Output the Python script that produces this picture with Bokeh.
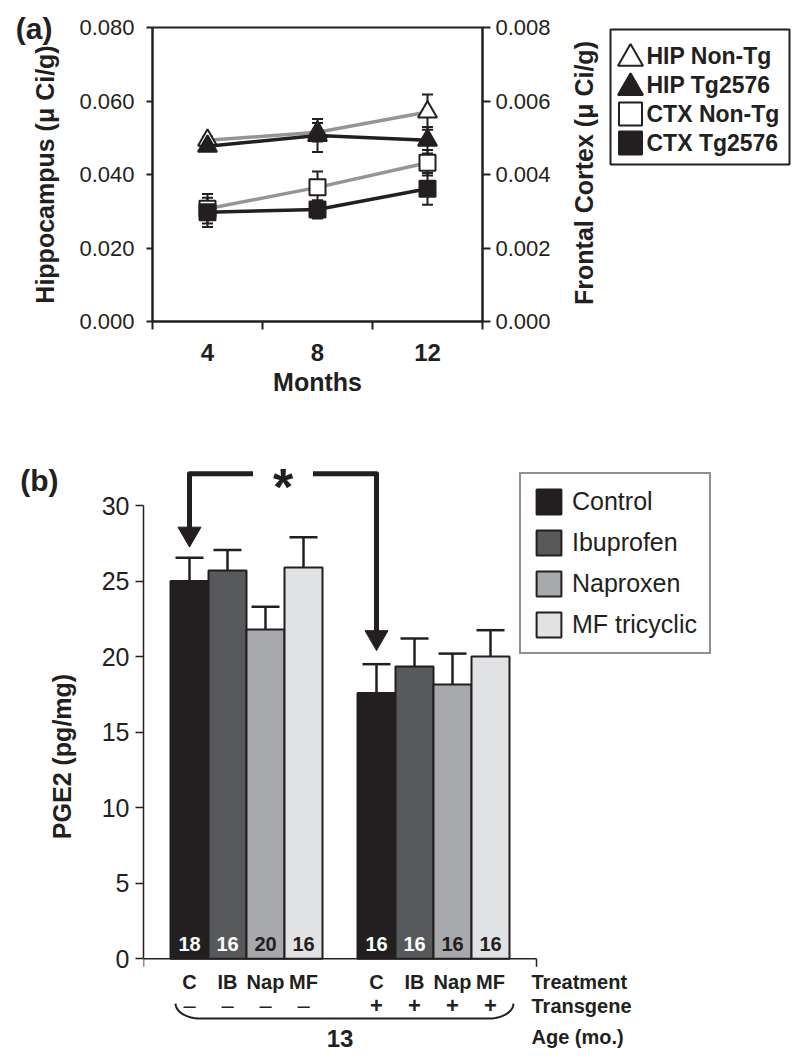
import numpy as np
from bokeh.plotting import figure
from bokeh.models import Range1d, LinearAxis, FixedTicker, Legend, LegendItem
from bokeh.layouts import column, row
from bokeh.embed import file_html
from bokeh.resources import INLINE
from bokeh.core.properties import value

FONT = "Liberation Sans"
INK = "#231f20"
GREY = "#939598"

# ---------------- Panel (a) data ----------------
months = [4, 8, 12]
hip_nontg = [0.0493, 0.0515, 0.0570]
hip_nontg_err = [0.0010, 0.0025, 0.0048]
hip_tg = [0.0477, 0.0506, 0.0493]
hip_tg_err = [0.0010, 0.0045, 0.0036]
ctx_nontg = [0.00307, 0.00365, 0.00432]
ctx_nontg_err = [0.00040, 0.00043, 0.00035]
ctx_tg = [0.00297, 0.00305, 0.00361]
ctx_tg_err = [0.00040, 0.00025, 0.00043]
hip_ticks = [0.0, 0.02, 0.04, 0.06, 0.08]
hip_tick_labels = ["0.000", "0.020", "0.040", "0.060", "0.080"]
ctx_ticks = [0.0, 0.002, 0.004, 0.006, 0.008]
ctx_tick_labels = ["0.000", "0.002", "0.004", "0.006", "0.008"]
legend_a_labels = ["HIP Non-Tg", "HIP Tg2576", "CTX Non-Tg", "CTX Tg2576"]
ctx_axis_title = "Frontal Cortex (\u03bc Ci/g)"

# ---------------- Panel (b) data ----------------
treatments = ["Control", "Ibuprofen", "Naproxen", "MF tricyclic"]
treat_short = ["C", "IB", "Nap", "MF"]
pge2_nontg = [25.0, 25.7, 21.8, 25.9]
pge2_nontg_err = [1.55, 1.35, 1.5, 2.0]
pge2_tg = [17.6, 19.35, 18.15, 20.0]
pge2_tg_err = [1.9, 1.85, 2.05, 1.75]
n_nontg = ["18", "16", "20", "16"]
n_tg = ["16", "16", "16", "16"]
transgene_signs = ["\u2013", "+"]
age_label = "13"
row_titles = ["Treatment", "Transgene", "Age (mo.)"]
pge2_ticks = [0, 5, 10, 15, 20, 25, 30]


def txt(p, x, y, s, size, bold=False, color=INK, align="center", baseline="middle", **kw):
    p.text(x=x, y=y, text=s, text_font=value(FONT), text_font_size=size,
           text_font_style="bold" if bold else "normal", text_color=color,
           text_align=align, text_baseline=baseline, **kw)


def style_axis(ax, label_size, bold_labels=False, tick_out=6, line_w=2, standoff=8):
    ax.major_tick_in = 0
    ax.major_tick_out = tick_out
    ax.major_tick_line_color = INK
    ax.major_tick_line_width = line_w
    ax.minor_tick_line_color = None
    ax.axis_line_color = INK
    ax.axis_line_width = line_w
    ax.major_label_text_font = FONT
    ax.major_label_text_font_size = label_size
    ax.major_label_text_font_style = "bold" if bold_labels else "normal"
    ax.major_label_text_color = INK
    ax.major_label_standoff = standoff
    ax.axis_label_text_font = FONT
    ax.axis_label_text_font_size = "25px"
    ax.axis_label_text_font_style = "bold"
    ax.axis_label_text_color = INK


def panel_tag(p, yval, text, size, shift):
    """Panel letter drawn as the lone tick label of an invisible outer axis."""
    ax = LinearAxis(ticker=FixedTicker(ticks=[yval]))
    ax.major_label_overrides = {yval: text}
    ax.axis_line_color = None
    ax.major_tick_line_color = None
    ax.minor_tick_line_color = None
    ax.major_tick_in = 0
    ax.major_tick_out = 0
    ax.major_label_standoff = 0
    try:
        ax.major_label_standoff = -shift
    except Exception:
        pass
    ax.major_label_text_font = FONT
    ax.major_label_text_font_size = size
    ax.major_label_text_font_style = "bold"
    ax.major_label_text_color = INK
    p.add_layout(ax, "left")


# ======================= Panel (a) =======================
WA, HA = 570, 428
TOP_A, BOT_A = 27, 107
pa = figure(width=WA, height=HA, x_range=Range1d(2, 14), y_range=Range1d(0, 0.08),
            output_backend="svg", toolbar_location=None,
            min_border_left=152, min_border_right=WA - 482, min_border_top=TOP_A, min_border_bottom=BOT_A)
pa.extra_y_ranges = {"ctx": Range1d(0, 0.008)}
pa.grid.visible = False
pa.outline_line_color = INK
pa.outline_line_width = 2

xa = pa.xaxis[0]
style_axis(xa, "24px", bold_labels=True, tick_out=0, standoff=14)
xa.ticker = FixedTicker(ticks=months, minor_ticks=[2, 6, 10, 14])
xa.minor_tick_in = 0
xa.minor_tick_out = 8
xa.minor_tick_line_color = INK
xa.minor_tick_line_width = 2
xa.axis_label = "Months"
xa.axis_label_standoff = 4

ya = pa.yaxis[0]
style_axis(ya, "22px", tick_out=6, standoff=12)
ya.ticker = FixedTicker(ticks=hip_ticks)
ya.major_label_overrides = dict(zip(hip_ticks, hip_tick_labels))
ya.axis_label = "Hippocampus (\u03bc Ci/g)"
ya.axis_label_standoff = 17

ra = LinearAxis(y_range_name="ctx", ticker=FixedTicker(ticks=ctx_ticks))
style_axis(ra, "22px", tick_out=8, standoff=5)
ra.major_label_overrides = dict(zip(ctx_ticks, ctx_tick_labels))
pa.add_layout(ra, "right")

panel_tag(pa, 0.0797, "(a)", "30px", 24)

CAP_A = 0.2  # half cap width in x units


def err_bars(p, vals, errs, rng=None):
    kw = {} if rng is None else {"y_range_name": rng}
    lo = [v - e for v, e in zip(vals, errs)]
    hi = [v + e for v, e in zip(vals, errs)]
    p.segment(x0=months, y0=lo, x1=months, y1=hi, line_color=INK, line_width=2, **kw)
    xl = [m - CAP_A for m in months]
    xr = [m + CAP_A for m in months]
    p.segment(x0=xl, y0=hi, x1=xr, y1=hi, line_color=INK, line_width=2, **kw)
    p.segment(x0=xl, y0=lo, x1=xr, y1=lo, line_color=INK, line_width=2, **kw)


err_bars(pa, hip_nontg, hip_nontg_err)
err_bars(pa, ctx_nontg, ctx_nontg_err, "ctx")
err_bars(pa, hip_tg, hip_tg_err)
err_bars(pa, ctx_tg, ctx_tg_err, "ctx")

pa.line(months, hip_nontg, line_color=GREY, line_width=3.5)
pa.line(months, ctx_nontg, line_color=GREY, line_width=3.5, y_range_name="ctx")
pa.scatter(months, hip_nontg, marker="triangle", size=19, fill_color="white", line_color=INK, line_width=2)
pa.scatter(months, ctx_nontg, marker="square", size=16, fill_color="white", line_color=INK, line_width=2,
           y_range_name="ctx")
pa.line(months, hip_tg, line_color=INK, line_width=3.5)
pa.line(months, ctx_tg, line_color=INK, line_width=3.5, y_range_name="ctx")
pa.scatter(months, hip_tg, marker="triangle", size=19, fill_color=INK, line_color=INK, line_width=2)
pa.scatter(months, ctx_tg, marker="square", size=16, fill_color=INK, line_color=INK, line_width=2,
           y_range_name="ctx")

# ----- right-axis title + legend (a), drawn in a side figure sharing the frame rows -----
WL = 800 - WA
FH_A = HA - TOP_A - BOT_A
pl = figure(width=WL, height=HA, x_range=Range1d(0, WL), y_range=Range1d(FH_A, 0),
            output_backend="svg", toolbar_location=None,
            x_axis_location=None, y_axis_location=None,
            min_border_left=0, min_border_right=0, min_border_top=TOP_A, min_border_bottom=BOT_A)
pl.grid.visible = False
pl.outline_line_color = None
txt(pl, [583 - WA], [172.5 - TOP_A], [ctx_axis_title], "25px", bold=True, angle=np.pi / 2)
LX = 610 - WA
pl.quad(left=[LX], right=[LX + 179], top=[2], bottom=[137], fill_color=None, line_color=INK, line_width=2)
rows_y = [28 + 29.2 * i for i in range(4)]
markers = ["triangle", "triangle", "square", "square"]
fills = ["white", INK, "white", INK]
msize = [25, 25, 23, 23]
moff = [3, 3, 0, 0]
pl.scatter(x=[LX + 20] * 4, y=[r + o for r, o in zip(rows_y, moff)], marker=markers, size=msize,
           fill_color=fills, line_color=INK, line_width=2)
txt(pl, [LX + 36] * 4, rows_y, legend_a_labels, "23px", bold=True, align="left")

# ======================= Panel (b) =======================
WB, HB = 800, 1062 - HA
TOP_B, BOT_B, LEFT_B = 32, 10, 143
PXX = 38.0                      # px per bar width
EDGE = 27 / PXX                 # gap between axis and first bar
GAP = 35 / PXX                  # gap between groups
Y0, Y1 = -6.2, 32.98
FRAME_H = HB - TOP_B - BOT_B
PXY = FRAME_H / (Y1 - Y0)       # px per y unit
AXIS_END = 2 * EDGE + 8 + GAP

pb = figure(width=WB, height=HB, x_range=Range1d(0, (WB - LEFT_B) / PXX), y_range=Range1d(Y0, Y1),
            output_backend="svg", toolbar_location=None, x_axis_location=None,
            min_border_left=LEFT_B, min_border_right=0, min_border_top=TOP_B, min_border_bottom=BOT_B)
pb.grid.visible = False
pb.outline_line_color = None

yb = pb.yaxis[0]
style_axis(yb, "25px", tick_out=8, line_w=1.5, standoff=6)
yb.bounds = (0, 30)
yb.ticker = FixedTicker(ticks=pge2_ticks)
yb.axis_label = "PGE2 (pg/mg)"
yb.axis_label_standoff = 23

panel_tag(pb, 31.65, "(b)", "30px", 14)

bar_colors = ["#231f20", "#58595b", "#a7a9ac", "#e1e2e3"]
n_colors = ["white", "white", INK, INK]
group_vals = [pge2_nontg, pge2_tg]
group_errs = [pge2_nontg_err, pge2_tg_err]
group_ns = [n_nontg, n_tg]


def bar_x(g, i):
    return EDGE + g * (4 + GAP) + i + 0.5


items = []
CAP_B = 14 / PXX
ROW1, ROW2, ROW3 = -1.55, -3.09, -5.2
for i, t in enumerate(treatments):
    xs = [bar_x(g, i) for g in range(2)]
    tops = [group_vals[g][i] for g in range(2)]
    ups = [group_vals[g][i] + group_errs[g][i] for g in range(2)]
    pb.segment(x0=xs, y0=tops, x1=xs, y1=ups, line_color=INK, line_width=2.5)
    pb.segment(x0=[x - CAP_B for x in xs], y0=ups, x1=[x + CAP_B for x in xs], y1=ups,
               line_color=INK, line_width=2.5)
    r = pb.vbar(x=xs, top=tops, bottom=0, width=1.0, fill_color=bar_colors[i],
                line_color=INK, line_width=2)
    items.append(LegendItem(label=t, renderers=[r]))
    txt(pb, xs, [1.0, 1.0], [group_ns[g][i] for g in range(2)], "20px", bold=True, color=n_colors[i])
    # category rows under the axis
    txt(pb, xs, [ROW1, ROW1], [treat_short[i]] * 2, "20px", bold=True)
    txt(pb, xs[:1], [ROW2], transgene_signs[:1], "22px", bold=False)
    txt(pb, xs[1:], [ROW2], transgene_signs[1:], "22px", bold=True)

# x-axis baseline with end ticks
TICK = 8 / PXY
pb.segment(x0=[0, 0, AXIS_END], y0=[0, 0, 0], x1=[AXIS_END, 0, AXIS_END], y1=[0, -TICK, -TICK],
           line_color=INK, line_width=1.5)

# row titles at right
tx = AXIS_END - 5 / PXX
txt(pb, [tx] * 3, [ROW1, ROW2, ROW3], row_titles, "20px", bold=True, align="left")

# age bracket
first_x, last_x = bar_x(0, 0), bar_x(1, 3)
mid_x = (first_x + last_x) / 2
txt(pb, [mid_x], [-5.27], [age_label], "24px", bold=True)
x_l = first_x - 14 / PXX
x_r = last_x + 23 / PXX
y_top = -2.96
rx, ry = 25 / PXX, 15 / PXY
t = np.linspace(0, np.pi / 2, 12)
lx = x_l + rx - rx * np.cos(t)
ly = y_top - ry * np.sin(t)
rxs = x_r - rx + rx * np.cos(t[::-1])
rys = y_top - ry * np.sin(t[::-1])
pb.line(x=np.concatenate([lx, rxs]), y=np.concatenate([ly, rys]), line_color=INK, line_width=2)

# significance bracket with arrows
BR_Y = 32.1
HEAD = 23
head_h = HEAD * 0.866 / PXY
ax_l, ax_r = bar_x(0, 0), bar_x(1, 0)
tip_l = pge2_nontg[0] + pge2_nontg_err[0] + 0.7
tip_r = pge2_tg[0] + pge2_tg_err[0] + 0.9
star_x = (ax_l + ax_r) / 2
half_gap = 30 / PXX
pb.multi_line(xs=[[ax_l, ax_l, star_x - half_gap], [star_x + half_gap, ax_r, ax_r]],
              ys=[[tip_l + head_h * 0.9, BR_Y, BR_Y], [BR_Y, BR_Y, tip_r + head_h * 0.9]],
              line_color=INK, line_width=5, line_join="round")
pb.scatter(x=[ax_l, ax_r], y=[tip_l + head_h * 2 / 3, tip_r + head_h * 2 / 3], marker="inverted_triangle",
           size=HEAD, fill_color=INK, line_color=INK, line_width=1)
txt(pb, [star_x], [31.2], ["*"], "52px", bold=True)

legend_b = Legend(items=items, location=(376, 398), orientation="vertical",
                  glyph_width=31, glyph_height=31, label_height=31, spacing=10, padding=12,
                  margin=0, label_standoff=8, label_text_font=FONT, label_text_font_size="25px",
                  label_text_color=INK, border_line_color=INK, border_line_width=2,
                  background_fill_color="white", background_fill_alpha=1.0)
pb.add_layout(legend_b, "center")

layout = column(row(pa, pl), pb)
open("out.html", "w").write(file_html(layout, INLINE))
